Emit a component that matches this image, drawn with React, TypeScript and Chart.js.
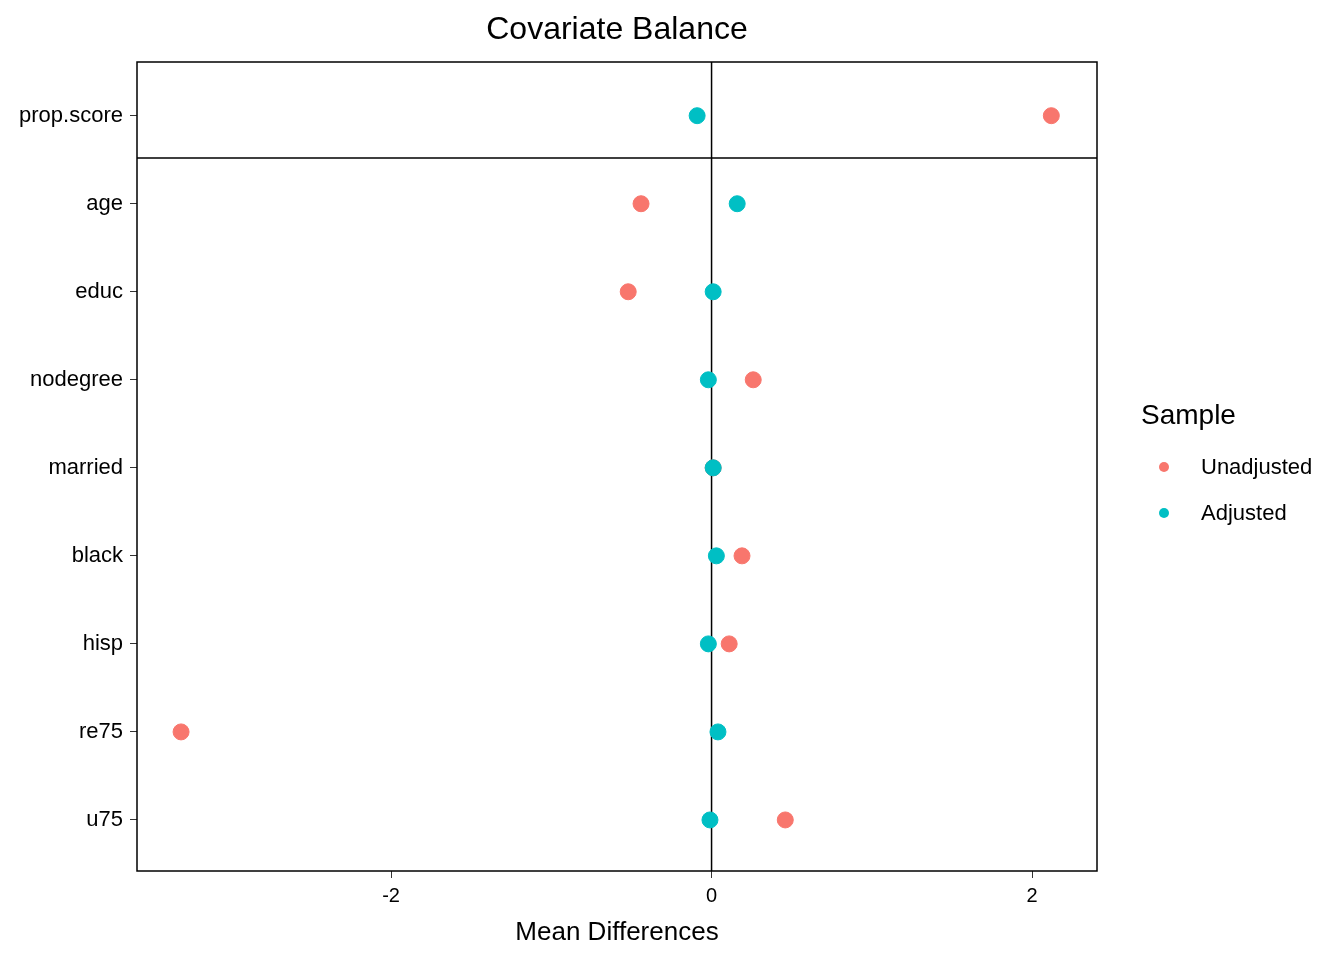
import Chart from 'chart.js/auto';
import { useEffect, useRef } from 'react';

const covariates = ['prop.score', 'age', 'educ', 'nodegree', 'married', 'black', 'hisp', 're75', 'u75'];
const unadjusted = [2.12, -0.44, -0.52, 0.26, 0.01, 0.19, 0.11, -3.31, 0.46];
const adjusted = [-0.09, 0.16, 0.01, -0.02, 0.01, 0.03, -0.02, 0.04, -0.01];
const xTicks = [-2, 0, 2];

const yPos = (i: number) => covariates.length - i;

const framePlugin = {
  id: 'frame',
  beforeDatasetsDraw(chart: any) {
    const { ctx, chartArea: a, scales } = chart;
    ctx.save();
    ctx.strokeStyle = '#000';
    ctx.lineWidth = 1.5;
    ctx.strokeRect(a.left, a.top, a.right - a.left, a.bottom - a.top);
    const x0 = scales.x.getPixelForValue(0);
    const ySep = scales.y.getPixelForValue(covariates.length - 0.48);
    ctx.beginPath();
    ctx.moveTo(x0, a.top);
    ctx.lineTo(x0, a.bottom);
    ctx.moveTo(a.left, ySep);
    ctx.lineTo(a.right, ySep);
    ctx.stroke();
    ctx.restore();
  },
};

export default function App() {
  const canvasRef = useRef<HTMLCanvasElement>(null);

  useEffect(() => {
    if (!canvasRef.current) return;
    const family = 'Liberation Sans, Arial, sans-serif';
    const chart = new Chart(canvasRef.current, {
      type: 'scatter',
      data: {
        datasets: [
          {
            label: 'Unadjusted',
            data: unadjusted.map((v, i) => ({ x: v, y: yPos(i) })),
            backgroundColor: '#F8766D',
            borderColor: '#F8766D',
            pointRadius: 8,
            order: 1,
          },
          {
            label: 'Adjusted',
            data: adjusted.map((v, i) => ({ x: v, y: yPos(i) })),
            backgroundColor: '#00BFC4',
            borderColor: '#00BFC4',
            pointRadius: 8,
            order: 0,
          },
        ],
      },
      options: {
        animation: false,
        responsive: false,
        layout: { padding: { top: 62, right: 247, left: 0, bottom: 0 } },
        plugins: { legend: { display: false }, tooltip: { enabled: false } },
        scales: {
          x: {
            min: -3.585,
            max: 2.405,
            afterBuildTicks: (s: any) => {
              s.ticks = xTicks.map((v) => ({ value: v }));
            },
            afterFit: (s: any) => {
              s.height = 89;
            },
            grid: { drawOnChartArea: false, tickLength: 7, color: '#333' },
            border: { display: false },
            ticks: { color: '#000', font: { family, size: 20 }, padding: 6 },
            title: { display: true, text: 'Mean Differences', color: '#000', font: { family, size: 26 }, padding: { top: 0, bottom: 12 } },
          },
          y: {
            min: 0.42,
            max: 9.61,
            afterBuildTicks: (s: any) => {
              s.ticks = covariates.map((_, i) => ({ value: yPos(i) }));
            },
            afterFit: (s: any) => {
              s.width = 137;
            },
            grid: { drawOnChartArea: false, tickLength: 7, color: '#333' },
            border: { display: false },
            ticks: {
              color: '#000',
              font: { family, size: 22 },
              padding: 7,
              callback: (v: any) => covariates[covariates.length - Number(v)] ?? '',
            },
          },
        },
      },
      plugins: [framePlugin],
    });
    return () => chart.destroy();
  }, []);

  const text = { fontFamily: 'Liberation Sans, Arial, sans-serif', color: '#000', position: 'absolute' as const };

  return (
    <div style={{ position: 'fixed', left: 0, top: 0, width: 1344, height: 960, background: '#fff' }}>
      <canvas ref={canvasRef} width={1344} height={960} style={{ position: 'absolute', left: 0, top: 0 }}></canvas>
      <div style={{ ...text, left: 0, width: 1234, top: 10, textAlign: 'center', fontSize: 32 }}>Covariate Balance</div>
      <div style={{ ...text, left: 1141, top: 399, fontSize: 28 }}>Sample</div>
      {[
        ['Unadjusted', '#F8766D', 467],
        ['Adjusted', '#00BFC4', 513],
      ].map(([label, color, y]) => (
        <div key={label as string}>
          <div style={{ position: 'absolute', left: 1159, top: (y as number) - 5, width: 10, height: 10, borderRadius: 5, background: color as string }} />
          <div style={{ ...text, left: 1201, top: (y as number) - 13, fontSize: 22 }}>{label}</div>
        </div>
      ))}
    </div>
  );
}
